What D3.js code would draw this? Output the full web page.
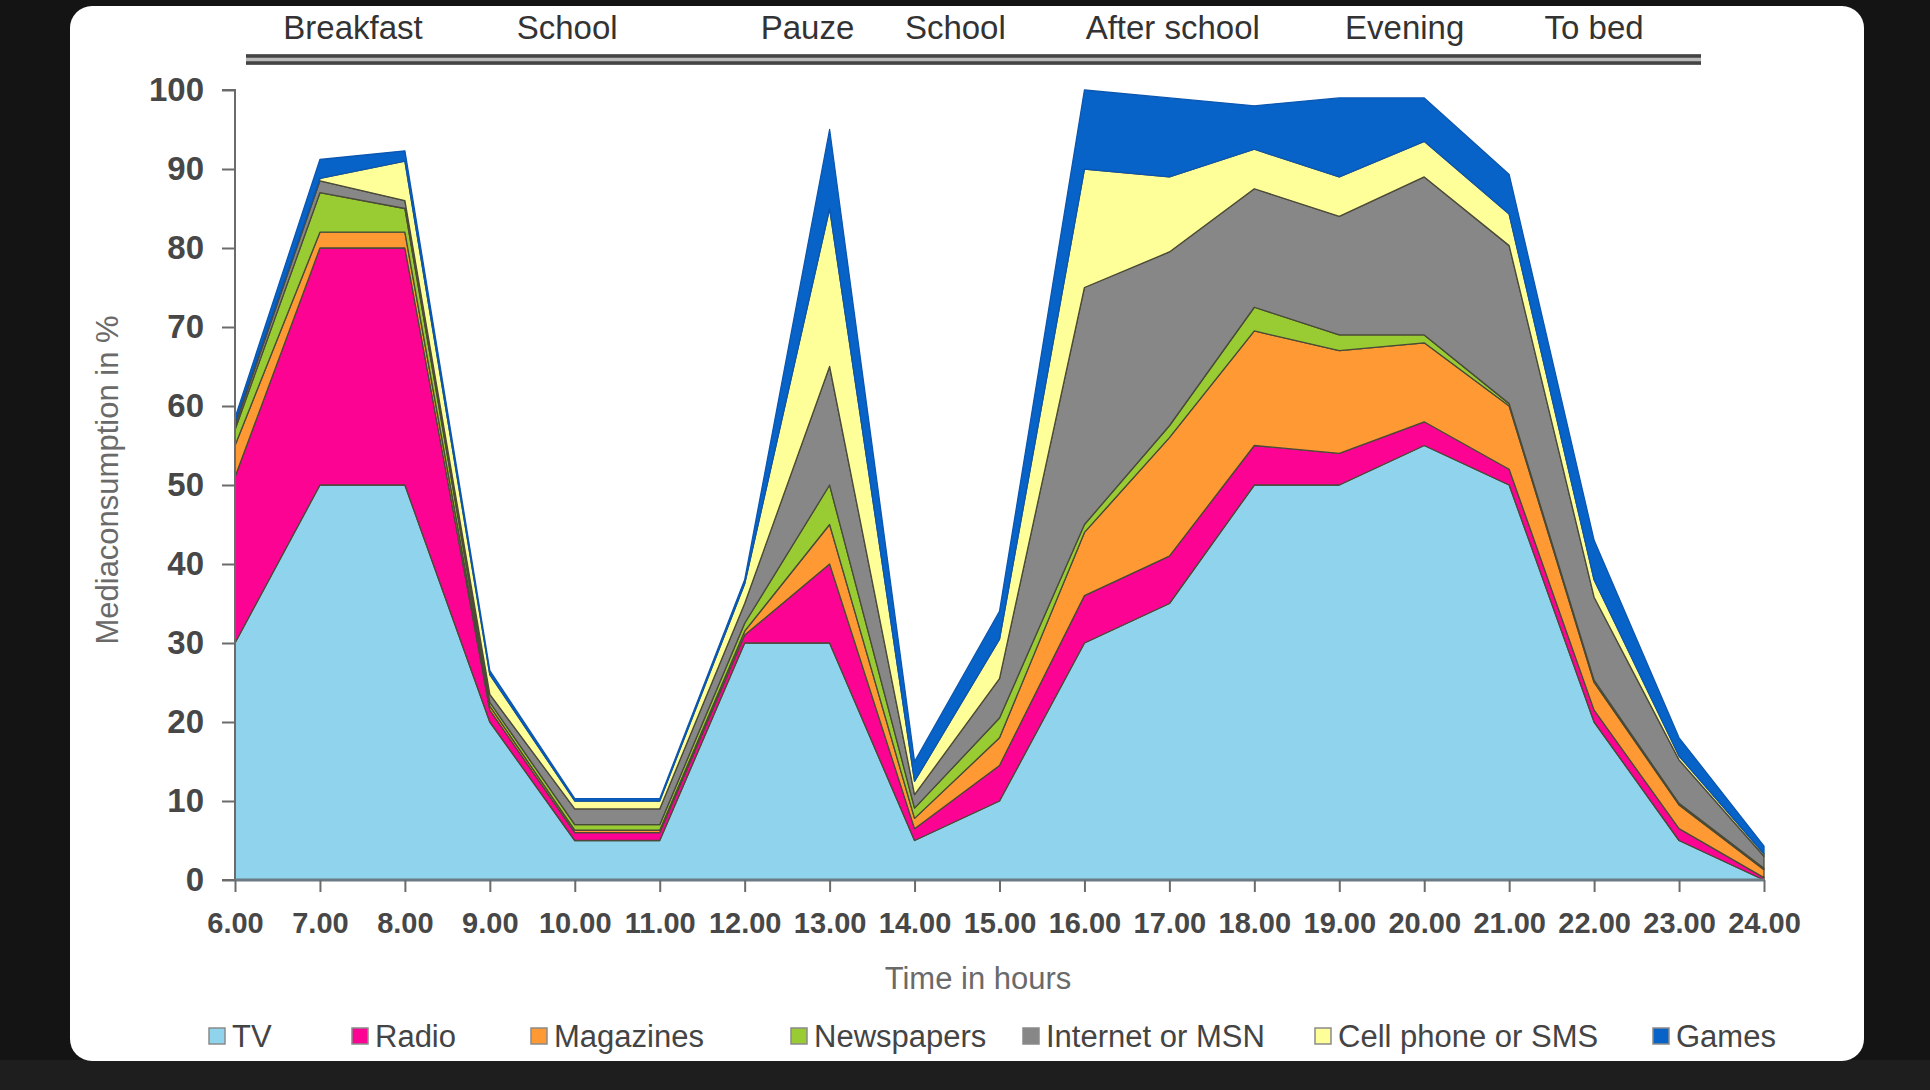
<!DOCTYPE html>
<html>
<head>
<meta charset="utf-8">
<script src="https://cdn.jsdelivr.net/npm/d3@7"></script>
<style>
  html, body { margin: 0; padding: 0; background: #141414; }
  svg { display: block; }
  text { font-family: "Liberation Sans", Arial, Helvetica, sans-serif; }
</style>
</head>
<body>
<svg id="chart" width="1930" height="1090"></svg>
<script>
// ---- Data ----
const hours = [6, 7, 8, 9, 10, 11, 12, 13, 14, 15, 16, 17, 18, 19, 20, 21, 22, 23, 24];
const hourLabels = ["6.00","7.00","8.00","9.00","10.00","11.00","12.00","13.00","14.00","15.00","16.00","17.00","18.00","19.00","20.00","21.00","22.00","23.00","24.00"];
const tv         = [30, 50, 50, 20, 5,   5,   30,  30, 5,   10,  30, 35,  50,   50, 55,  50,  20,  5,   0];
const radio      = [21, 30, 30, 1.5, 1,  1,   1,   10, 1.5, 4.5, 6,  6,   5,    4,  3,   2,   1.5, 1.5, 0.3];
const magazines  = [4,  2,  2,  0.5, 0.3, 0.3, 0.5, 5,  1.3, 3.5, 8,  15,  14.5, 13, 10,  8,   3.5, 3,   1];
const newspapers = [2,  5,  3,  0.5, 0.7, 0.7, 1,   5,  1.3, 2.5, 1,  1.5, 3,    2,  1,   0.3, 0.3, 0.2, 0.2];
const internet   = [0.5, 1.5, 1, 1,  2,   2,   2.5, 15, 1.7, 5,   30, 22,  15,   15, 20,  20,  10.5, 5.5, 1.5];
const cellphone  = [0.5, 0.3, 5, 2.5, 1,  1,   2.5, 20, 1.7, 5,   15, 9.5, 5,    5,  4.5, 4,   2.2, 0.5, 0.3];
const games      = [0.5, 2.4, 1.3, 0.5, 0.3, 0.3, 0.5, 10, 2.5, 3.5, 10, 10, 5.5, 10, 5.5, 5,   5,   2.3, 1];
const seriesNames = ["TV", "Radio", "Magazines", "Newspapers", "Internet or MSN", "Cell phone or SMS", "Games"];
const seriesColors = ["#90d3ec", "#fc0394", "#ff9933", "#99cc33", "#878787", "#ffff99", "#0863c8"];
const yTicks = [0, 10, 20, 30, 40, 50, 60, 70, 80, 90, 100];
const periodLabels = ["Breakfast", "School", "Pauze", "School", "After school", "Evening", "To bed"];
const periodCenters = [7.39, 9.91, 12.74, 14.48, 17.04, 19.77, 22.0]; // in hours
const legendOffsets = [6.0, 7.0, 8.0, 9.0, 10.0, 11.0, 12.0];

// ---- Build table ----
const seriesArrays = [tv, radio, magazines, newspapers, internet, cellphone, games];
const table = hours.map((h, i) => {
  const row = { hour: h };
  seriesNames.forEach((n, k) => { row[n] = seriesArrays[k][i]; });
  return row;
});

const svg = d3.select("#chart");

// Panel
svg.append("rect").attr("x", 0).attr("y", 1060).attr("width", 1930).attr("height", 30).attr("fill", "#1e1e1e");
svg.append("rect")
  .attr("x", 70).attr("y", 6).attr("width", 1794).attr("height", 1055)
  .attr("rx", 22).attr("ry", 22)
  .attr("fill", "#ffffff");

// Scales
const x = d3.scaleLinear().domain([6, 24]).range([235, 1764]);
const y = d3.scaleLinear().domain([0, 100]).range([880, 90]);

// Stack
const stack = d3.stack().keys(seriesNames);
const stacked = stack(table);

const area = d3.area()
  .x(d => x(d.data.hour))
  .y0(d => y(d[0]))
  .y1(d => y(d[1]));

svg.append("g").selectAll("path")
  .data(stacked)
  .join("path")
  .attr("d", area)
  .attr("fill", (d, i) => seriesColors[i])
  .attr("stroke", (d, i) => i === 6 ? "#0a56b0" : "#4a4a38")
  .attr("stroke-width", 1.3)
  .attr("stroke-linejoin", "round");

// Y axis
const yAxis = d3.axisLeft(y).tickValues(yTicks).tickSize(13).tickPadding(18).tickFormat(d3.format("d"));
const gy = svg.append("g").attr("transform", "translate(235,0)").call(yAxis);
gy.select(".domain").attr("stroke", "#6b6b6b").attr("stroke-width", 2).attr("d", "M-13,90H0V880H-13");
gy.selectAll(".tick line").attr("stroke", "#6b6b6b").attr("stroke-width", 2);
gy.selectAll(".tick text")
  .attr("fill", "#474747")
  .style("font-size", "33px")
  .style("font-weight", "bold");

// X axis
const xAxis = d3.axisBottom(x).tickValues(hours).tickSize(12).tickPadding(20)
  .tickFormat((d, i) => hourLabels[i]);
const gx = svg.append("g").attr("transform", "translate(0,880)").call(xAxis);
gx.select(".domain").attr("stroke", "#6a7b84").attr("stroke-width", 3).attr("d", "M235,0H1764");
gx.selectAll(".tick line").attr("stroke", "#6b6b6b").attr("stroke-width", 2);
gx.selectAll(".tick text")
  .attr("fill", "#474747")
  .style("font-size", "29px")
  .style("font-weight", "bold");

// Axis titles
svg.append("text")
  .attr("x", 978).attr("y", 989)
  .attr("text-anchor", "middle")
  .attr("fill", "#6a6a6a")
  .style("font-size", "31px")
  .text("Time in hours");

svg.append("text")
  .attr("transform", "translate(118,480) rotate(-90)")
  .attr("text-anchor", "middle")
  .attr("fill", "#6a6a6a")
  .style("font-size", "31px")
  .text("Mediaconsumption in %");

// Header period labels and double rule
svg.append("g").selectAll("text")
  .data(periodLabels)
  .join("text")
  .attr("x", (d, i) => x(periodCenters[i]))
  .attr("y", 39)
  .attr("text-anchor", "middle")
  .attr("fill", "#333333")
  .style("font-size", "33px")
  .text(d => d);

svg.append("rect").attr("x", 246).attr("y", 54).attr("width", 1455).attr("height", 11).attr("fill", "#b9b9b9");
svg.append("line").attr("x1", 246).attr("x2", 1701).attr("y1", 56).attr("y2", 56).attr("stroke", "#444").attr("stroke-width", 3.5);
svg.append("line").attr("x1", 246).attr("x2", 1701).attr("y1", 63).attr("y2", 63).attr("stroke", "#444").attr("stroke-width", 3.5);

// Legend
const legendX = [209, 352, 531, 791, 1023, 1315, 1653];
const lg = svg.append("g").selectAll("g")
  .data(seriesNames)
  .join("g")
  .attr("transform", (d, i) => `translate(${legendX[i]},1036)`);
lg.append("rect")
  .attr("x", 0).attr("y", -8).attr("width", 16).attr("height", 16)
  .attr("fill", (d, i) => seriesColors[i])
  .attr("stroke", "#8a8a8a").attr("stroke-width", 1.5);
lg.append("text")
  .attr("x", 23).attr("y", 11)
  .attr("fill", "#444444")
  .style("font-size", "31px")
  .text(d => d);
</script>
</body>
</html>
